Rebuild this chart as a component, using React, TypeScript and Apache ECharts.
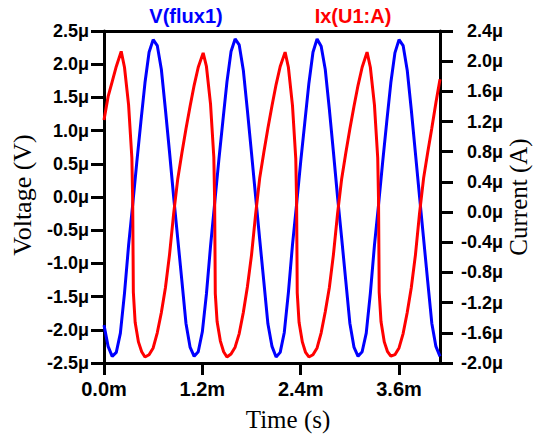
import React, { useEffect, useRef } from "react";
import * as echarts from "echarts";

// X axis tick values (ms)
const xTickValues = [0, 1.2, 2.4, 3.6];

// V(flux1) samples: time (ms) and value (µ units)
const voltageTime = [
  0.0, 0.05, 0.1, 0.15, 0.2, 0.25, 0.3, 0.35, 0.4, 0.45, 0.5, 0.55, 0.6, 0.65, 0.7, 0.75, 0.8, 0.85, 0.9, 0.95,
  1.0, 1.05, 1.1, 1.15, 1.2, 1.25, 1.3, 1.35, 1.4, 1.45, 1.5, 1.55, 1.6, 1.65, 1.7, 1.75, 1.8, 1.85, 1.9, 1.95,
  2.0, 2.05, 2.1, 2.15, 2.2, 2.25, 2.3, 2.35, 2.4, 2.45, 2.5, 2.55, 2.6, 2.65, 2.7, 2.75, 2.8, 2.85, 2.9, 2.95,
  3.0, 3.05, 3.1, 3.15, 3.2, 3.25, 3.3, 3.35, 3.4, 3.45, 3.5, 3.55, 3.6, 3.65, 3.7, 3.75, 3.8, 3.85, 3.9, 3.95,
  4.0, 4.05, 4.1,
];
const voltageValues = [
  -1.93, -2.25, -2.4, -2.34, -2.05, -1.45, -0.73, -0.12, 0.52, 1.13, 1.72, 2.18, 2.37, 2.28, 1.92, 1.31, 0.67, 0.0, -0.63, -1.26,
  -1.9, -2.26, -2.4, -2.33, -2.03, -1.46, -0.74, -0.1, 0.54, 1.14, 1.73, 2.19, 2.38, 2.29, 1.91, 1.3, 0.66, 0.01, -0.64, -1.27,
  -1.91, -2.25, -2.41, -2.34, -2.04, -1.44, -0.72, -0.11, 0.53, 1.12, 1.71, 2.18, 2.38, 2.27, 1.92, 1.32, 0.67, 0.0, -0.62, -1.26,
  -1.9, -2.26, -2.4, -2.33, -2.05, -1.45, -0.73, -0.12, 0.52, 1.13, 1.72, 2.17, 2.37, 2.28, 1.91, 1.31, 0.66, 0.01, -0.63, -1.27,
  -1.9, -2.25, -2.4,
];

// Ix(U1:A) samples: time (ms) and value (µ units)
const currentTime = [
  0.0, 0.05, 0.1, 0.15, 0.21, 0.25, 0.3, 0.34, 0.35, 0.358, 0.38, 0.42, 0.46, 0.5, 0.55, 0.6, 0.65, 0.7, 0.75, 0.8, 0.85, 0.9, 0.95,
  1.0, 1.05, 1.1, 1.15, 1.21, 1.25, 1.3, 1.34, 1.35, 1.358, 1.38, 1.42, 1.46, 1.5, 1.55, 1.6, 1.65, 1.7, 1.75, 1.8, 1.85, 1.9, 1.95,
  2.0, 2.05, 2.1, 2.15, 2.21, 2.25, 2.3, 2.34, 2.35, 2.358, 2.38, 2.42, 2.46, 2.5, 2.55, 2.6, 2.65, 2.7, 2.75, 2.8, 2.85, 2.9, 2.95,
  3.0, 3.05, 3.1, 3.15, 3.21, 3.25, 3.3, 3.34, 3.35, 3.358, 3.38, 3.42, 3.46, 3.5, 3.55, 3.6, 3.65, 3.7, 3.75, 3.8, 3.85, 3.9, 3.95,
  4.0, 4.05, 4.1,
];
const currentValues = [
  1.22, 1.53, 1.73, 1.93, 2.13, 1.92, 1.42, 0.72, 0.16, -1.06, -1.46, -1.72, -1.85, -1.92, -1.89, -1.8, -1.6, -1.33, -1.0, -0.56, -0.02, 0.44, 0.78,
  1.1, 1.4, 1.68, 1.92, 2.11, 1.93, 1.43, 0.73, 0.16, -1.08, -1.45, -1.71, -1.85, -1.92, -1.88, -1.79, -1.61, -1.33, -0.99, -0.57, -0.03, 0.45, 0.79,
  1.11, 1.41, 1.69, 1.93, 2.12, 1.92, 1.41, 0.71, 0.15, -1.07, -1.46, -1.72, -1.86, -1.92, -1.89, -1.8, -1.6, -1.32, -1.0, -0.56, -0.02, 0.44, 0.78,
  1.1, 1.4, 1.68, 1.92, 2.12, 1.92, 1.42, 0.72, 0.16, -1.06, -1.45, -1.72, -1.85, -1.91, -1.89, -1.8, -1.61, -1.33, -1.0, -0.57, -0.02, 0.45, 0.79,
  1.11, 1.45, 1.76,
];

const SANS = '"Liberation Sans", Arial, sans-serif';
const SERIF = '"Liberation Serif", "Times New Roman", serif';

export default function App() {
  const ref = useRef<HTMLDivElement>(null);

  useEffect(() => {
    document.body.style.margin = "0";
    const chart = echarts.init(ref.current!, null, { renderer: "svg" });
    const axisLine = { show: true, onZero: false, lineStyle: { color: "#000", width: 3 } };
    const tick = (length: number) => ({ show: true, inside: false, length, lineStyle: { color: "#000", width: 3 } });
    const yLabel = {
      color: "#000",
      fontSize: 18,
      fontWeight: "bold" as const,
      fontFamily: SANS,
    };
    const fmt = (suffix: string) => (v: number) => (Math.abs(v) < 1e-9 ? 0 : v).toFixed(1) + suffix;

    chart.setOption({
      animation: false,
      backgroundColor: "#fff",
      grid: { left: 104, right: 93, top: 31, bottom: 76 },
      xAxis: [
        {
          type: "value",
          min: 0,
          max: 4.1,
          interval: 1.2,
          position: "bottom",
          axisLine,
          axisTick: { ...tick(12), customValues: xTickValues },
          axisLabel: {
            customValues: xTickValues,
            formatter: fmt("m"),
            color: "#000",
            fontSize: 20,
            fontWeight: "bold",
            fontFamily: SANS,
            margin: 16,
          },
          splitLine: { show: false },
        },
        {
          type: "value",
          min: 0,
          max: 4.1,
          position: "top",
          axisLine,
          axisTick: { show: false },
          axisLabel: { show: false },
          splitLine: { show: false },
        },
      ],
      yAxis: [
        {
          type: "value",
          min: -2.5,
          max: 2.5,
          interval: 0.5,
          position: "left",
          axisLine,
          axisTick: tick(13),
          axisLabel: { ...yLabel, formatter: fmt("μ"), margin: 15 },
          splitLine: { show: false },
        },
        {
          type: "value",
          min: -2.0,
          max: 2.4,
          interval: 0.4,
          position: "right",
          axisLine,
          axisTick: tick(13),
          axisLabel: { ...yLabel, formatter: fmt("μ"), margin: 63, align: "right" },
          splitLine: { show: false },
        },
      ],
      series: [
        {
          name: "V(flux1)",
          type: "line",
          xAxisIndex: 0,
          yAxisIndex: 0,
          data: voltageTime.map((t, i) => [t, voltageValues[i]]),
          showSymbol: false,
          lineStyle: { color: "#0000ff", width: 3 },
          itemStyle: { color: "#0000ff" },
        },
        {
          name: "Ix(U1:A)",
          type: "line",
          xAxisIndex: 0,
          yAxisIndex: 1,
          data: currentTime.map((t, i) => [t, currentValues[i]]),
          showSymbol: false,
          lineStyle: { color: "#ff0000", width: 3 },
          itemStyle: { color: "#ff0000" },
        },
      ],
      graphic: [
        {
          type: "text",
          x: 186,
          y: 16,
          style: { text: "V(flux1)", fill: "#0000ff", font: `bold 20px ${SANS}`, textAlign: "center", textVerticalAlign: "middle" },
        },
        {
          type: "text",
          x: 353,
          y: 16,
          style: { text: "Ix(U1:A)", fill: "#ff0000", font: `bold 20px ${SANS}`, textAlign: "center", textVerticalAlign: "middle" },
        },
        {
          type: "text",
          x: 288,
          y: 419,
          style: { text: "Time (s)", fill: "#000", font: `25px ${SERIF}`, textAlign: "center", textVerticalAlign: "middle" },
        },
        {
          type: "text",
          x: 22,
          y: 195,
          rotation: Math.PI / 2,
          style: { text: "Voltage (V)", fill: "#000", font: `26px ${SERIF}`, textAlign: "center", textVerticalAlign: "middle" },
        },
        {
          type: "text",
          x: 518,
          y: 197,
          rotation: Math.PI / 2,
          style: { text: "Current (A)", fill: "#000", font: `25px ${SERIF}`, textAlign: "center", textVerticalAlign: "middle" },
        },
      ],
    });
    return () => chart.dispose();
  }, []);

  return <div ref={ref} style={{ width: 533, height: 439, background: "#fff" }} />;
}
